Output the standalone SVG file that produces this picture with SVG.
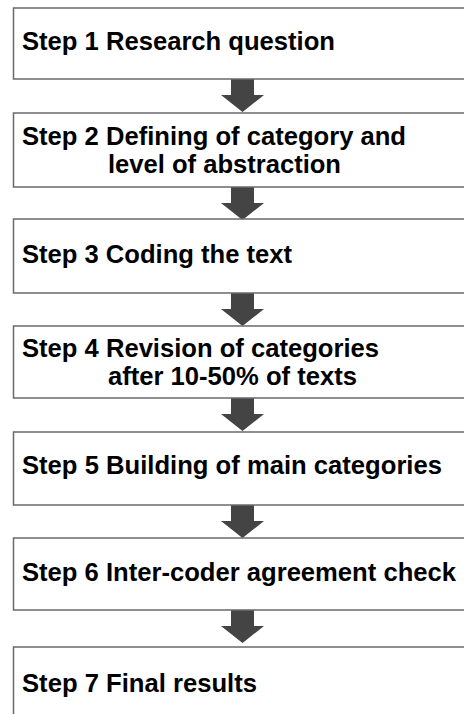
<svg xmlns="http://www.w3.org/2000/svg" width="464" height="714" viewBox="0 0 464 714">
<defs>
<style>
.box{fill:#fff;stroke:#6a6a6a;stroke-width:1.5}
.t{font-family:"Liberation Sans",Arial,Helvetica,sans-serif;font-weight:bold;font-size:25px;fill:#000}
.arr{fill:#444}
</style>
<path id="a" class="arr" d="M231,0 H254 V16 H264 L242.5,33 L221,16 H231 Z"/>
</defs>
<rect width="464" height="714" fill="#fff"/>
<g id="connectors">
<use href="#a" y="79"/>
<use href="#a" y="187"/>
<use href="#a" y="293"/>
<use href="#a" y="398"/>
<use href="#a" y="505"/>
<use href="#a" y="610"/>
</g>
<g id="step1"><rect class="box" x="13.5" y="8" width="460" height="71"/><text class="t" x="22" y="50" textLength="313" lengthAdjust="spacingAndGlyphs">Step 1 Research question</text></g>
<g id="step2"><rect class="box" x="13.5" y="113" width="460" height="74"/><text class="t" x="22" y="144.5" textLength="384" lengthAdjust="spacingAndGlyphs">Step 2 Defining of category and</text><text class="t" x="108" y="172.5" textLength="233" lengthAdjust="spacingAndGlyphs">level of abstraction</text></g>
<g id="step3"><rect class="box" x="13.5" y="219" width="460" height="74"/><text class="t" x="22" y="263" textLength="270" lengthAdjust="spacingAndGlyphs">Step 3 Coding the text</text></g>
<g id="step4"><rect class="box" x="13.5" y="326" width="460" height="72"/><text class="t" x="22" y="356.5" textLength="357" lengthAdjust="spacingAndGlyphs">Step 4 Revision of categories</text><text class="t" x="108" y="384.5" textLength="249" lengthAdjust="spacingAndGlyphs">after 10-50% of texts</text></g>
<g id="step5"><rect class="box" x="13.5" y="432" width="460" height="73"/><text class="t" x="22" y="474" textLength="420" lengthAdjust="spacingAndGlyphs">Step 5 Building of main categories</text></g>
<g id="step6"><rect class="box" x="13.5" y="538" width="460" height="72"/><text class="t" x="22" y="581" textLength="434" lengthAdjust="spacingAndGlyphs">Step 6 Inter-coder agreement check</text></g>
<g id="step7"><rect class="box" x="13.5" y="647" width="460" height="80"/><text class="t" x="22" y="692" textLength="235" lengthAdjust="spacingAndGlyphs">Step 7 Final results</text></g>
</svg>
